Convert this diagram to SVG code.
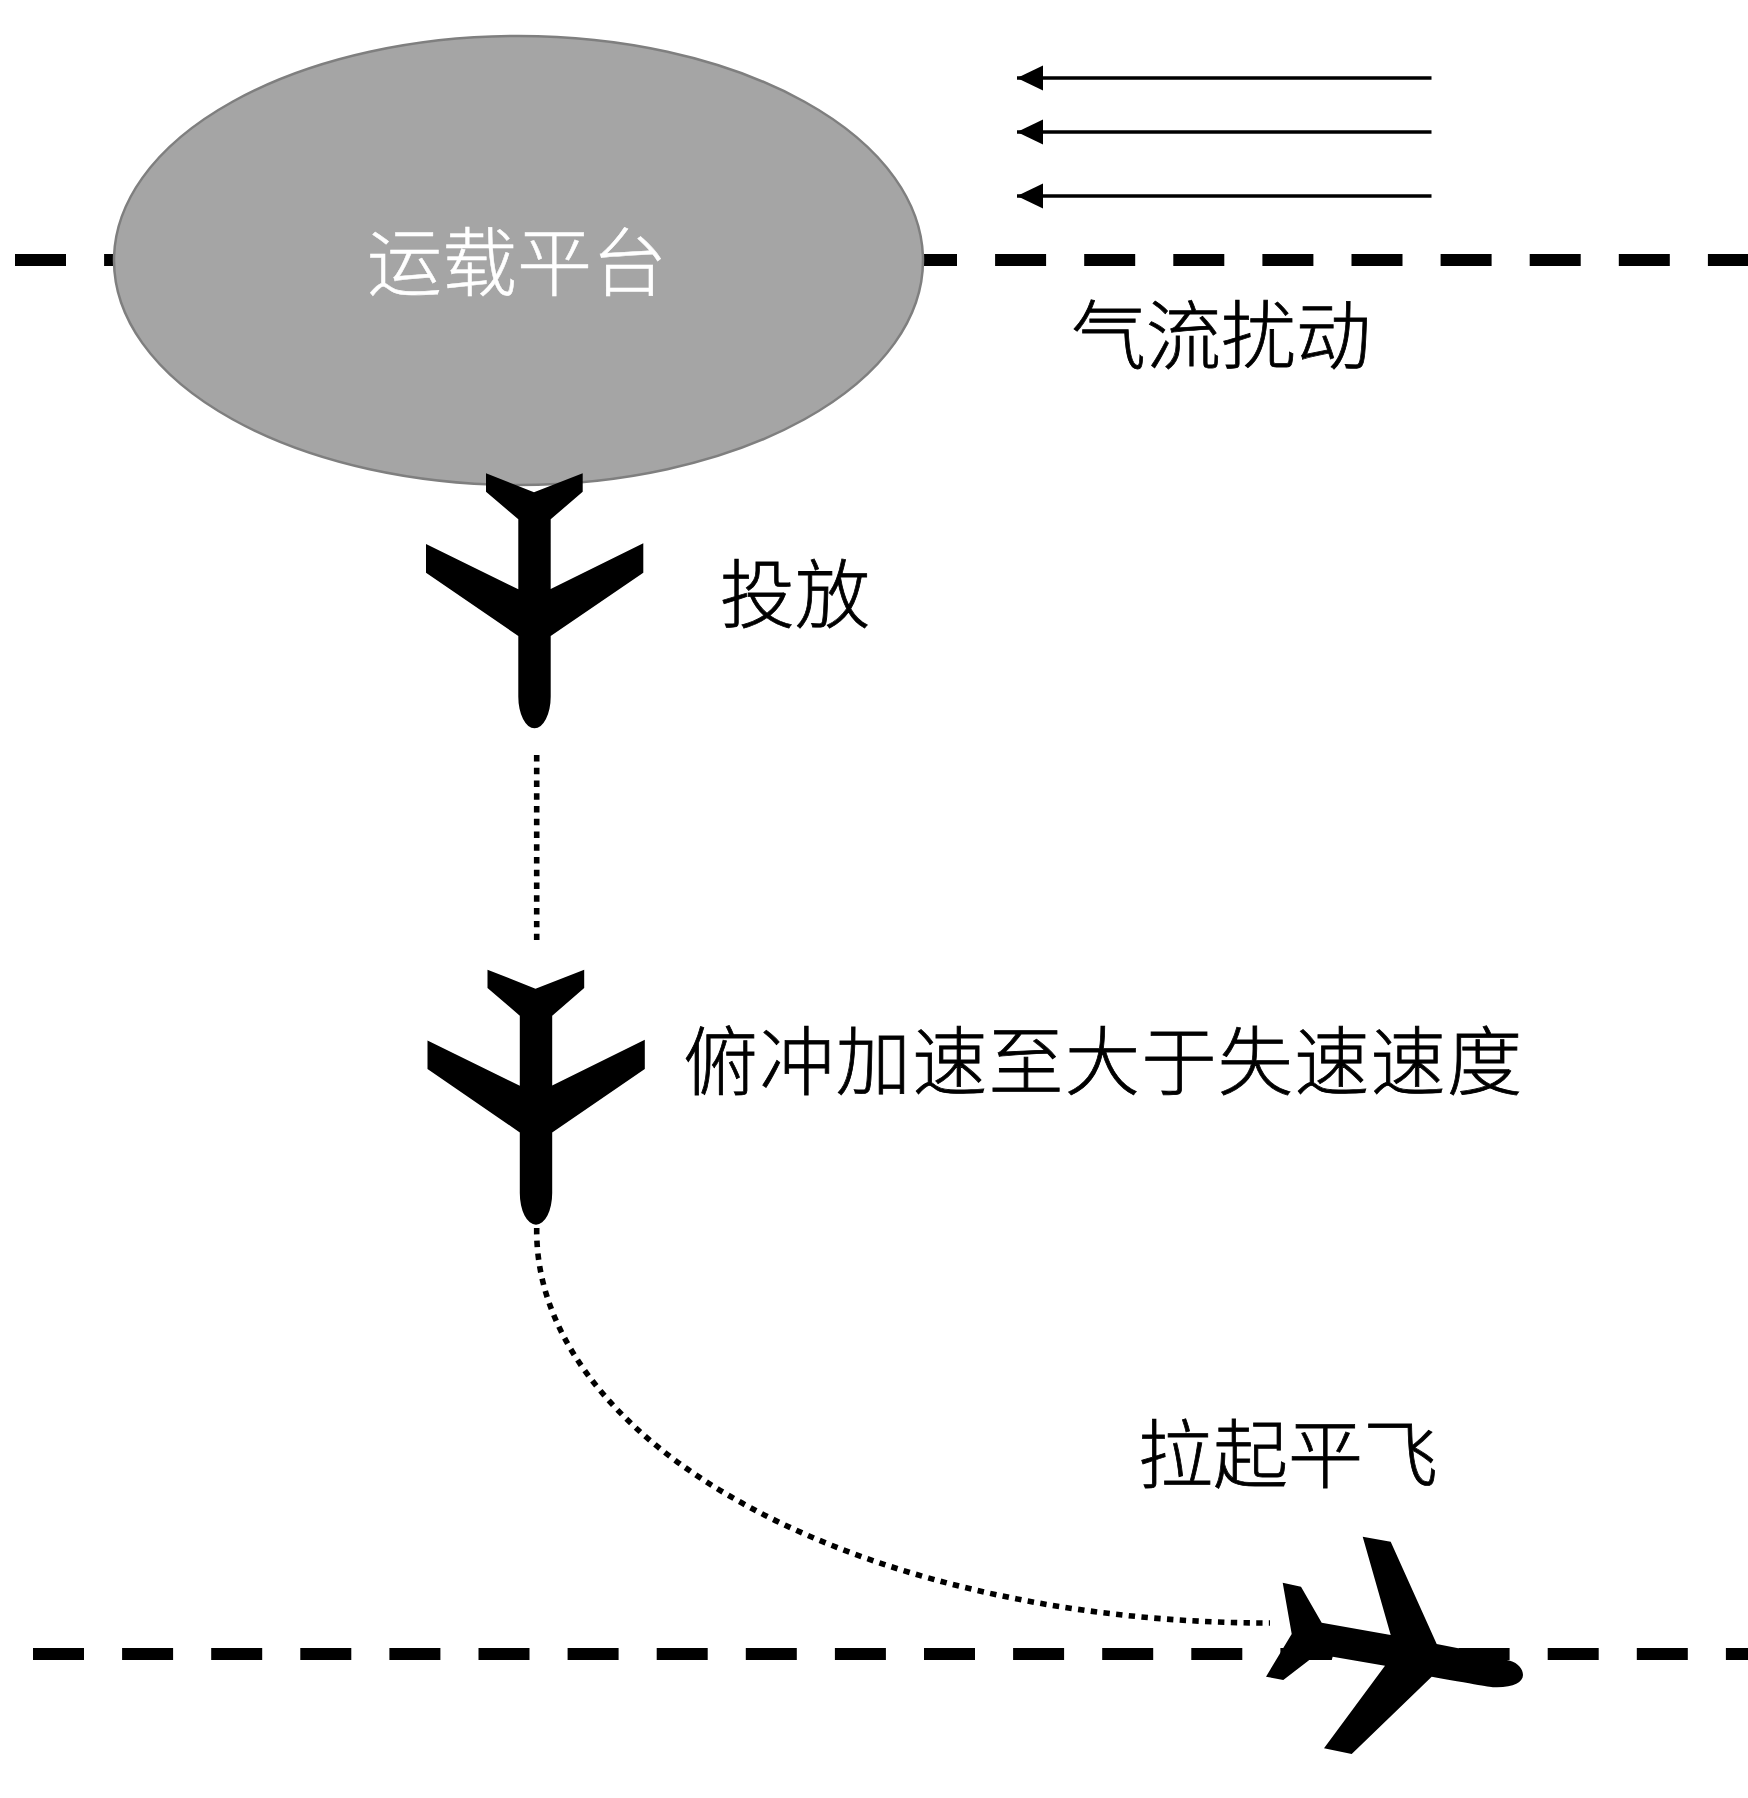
<svg xmlns="http://www.w3.org/2000/svg" width="1748" height="1798" viewBox="0 0 1748 1798">
<style>
.lbl{font-family:"Noto Sans CJK SC","Noto Sans",sans-serif;font-size:75px;font-weight:300;fill:#000;stroke:#000;stroke-width:.8}
.dash{stroke:#000;stroke-width:12;stroke-dasharray:51 38.1;fill:none}
.dot{stroke:#000;stroke-width:5.6;stroke-dasharray:6.4 6.36;fill:none}
.wind{stroke:#000;stroke-width:3.5;fill:none;marker-end:url(#head)}
</style>
<defs>
<marker id="head" markerUnits="userSpaceOnUse" markerWidth="27" markerHeight="26" refX="26" refY="12.5" orient="auto"><path d="M0 0L26 12.5L0 25Z" fill="#000"/></marker>
<path id="plane" d="M486 473.3L534 492.3L582.7 473.3V491.7L550.7 519.3V589L643.3 543.3V572.7L550.7 636V696.7A16.2 31.6 0 0 1 518.3 696.7V636L426 572.7V544L518.3 589.3V519.3L486 491.7Z" fill="#000"/>
</defs>
<rect width="1748" height="1798" fill="#fff"/>
<g id="connectors">
<line class="dash" x1="15" y1="260" x2="1748" y2="260"/>
<line class="dash" x1="33" y1="1654" x2="1748" y2="1654"/>
<line class="wind" x1="1431.5" y1="78" x2="1017" y2="78"/>
<line class="wind" x1="1431.5" y1="132" x2="1017" y2="132"/>
<line class="wind" x1="1431.5" y1="196" x2="1017" y2="196"/>
<line class="dot" x1="536.7" y1="755" x2="536.7" y2="940"/>
<path class="dot" d="M536.7 1228V1231A733 392 0 0 0 1270 1623"/>
</g>
<g id="platform">
<ellipse cx="518.5" cy="260.5" rx="404.5" ry="224.5" fill="#a5a5a5" stroke="#7f7f7f" stroke-width="2.5"/>
<text style="fill:#fff;stroke:#fff;stroke-width:.5" class="lbl" x="367" y="290">运载平台</text>
</g>
<g id="plane1"><use href="#plane"/></g>
<g id="plane2"><use href="#plane" x="1.5" y="496.4"/></g>
<g id="plane3">
<path fill="#000" d="M1362.7 1536.7L1390.7 1541.7L1436.7 1644L1458.3 1648.3L1510 1660.7C1518 1663 1523 1669 1523 1675C1523 1682 1514 1687.3 1497 1687.3C1490 1687.3 1485 1686 1431.7 1676.7L1351.7 1754L1324 1748.3L1385 1665.7L1332.7 1656.7L1331.7 1660L1309.3 1660L1283.3 1680L1266 1676.7L1291.7 1634L1282.7 1582.7L1301 1586.7L1321.7 1622.7L1390.7 1635Z"/>
</g>
<g id="label-wind"><text class="lbl" x="1071" y="363">气流扰动</text></g>
<g id="label-drop"><text class="lbl" x="720" y="622">投放</text></g>
<g id="label-dive"><text class="lbl" x="683" y="1089" textLength="839">俯冲加速至大于失速速度</text></g>
<g id="label-level"><text class="lbl" x="1138" y="1482">拉起平飞</text></g>
</svg>
